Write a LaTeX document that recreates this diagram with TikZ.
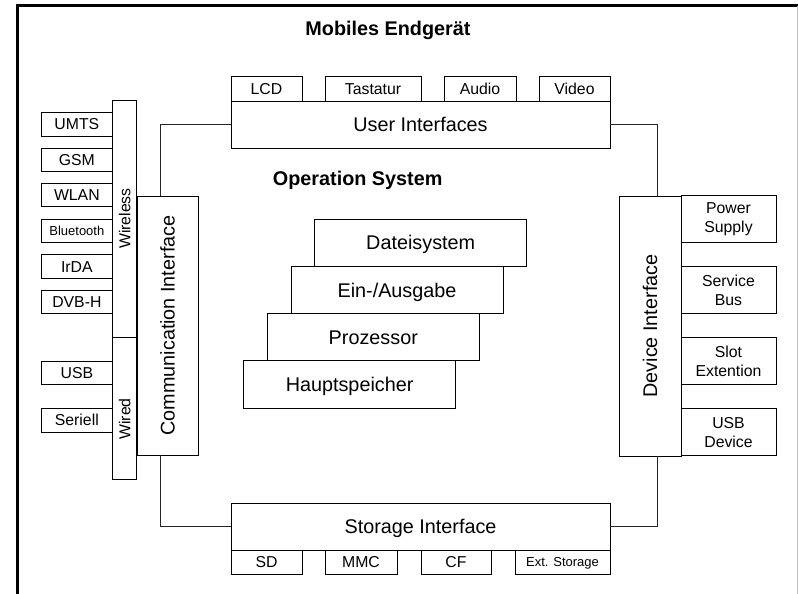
\documentclass[tikz,border=0pt]{standalone}
\usepackage{fontspec}
\setmainfont{Liberation Sans}
\usepackage{graphicx}
\begin{document}
\begin{tikzpicture}[x=1pt,y=-1pt,
  box/.style={draw=black, line width=1pt, inner sep=0pt, outer sep=0pt, align=center, fill=white},
  big/.style={font=\fontsize{19.8}{23}\selectfont},
  bigc/.style={big, text height=14.2pt, text depth=0pt},
  small/.style={font=\fontsize{15.8}{19}\selectfont},
  smallc/.style={small, text height=11.3pt, text depth=0pt},
  tinyc/.style={font=\fontsize{13}{15}\selectfont, text height=9.3pt, text depth=0pt},
  ttl/.style={font=\bfseries\fontsize{19.8}{23}\selectfont, anchor=base, inner sep=0pt},
  conn/.style={draw=black!85, line width=1pt},
  lbox/.style={box, smallc, minimum width=71.7pt, minimum height=23.5pt},
  rbox/.style={box, small, minimum width=95pt, minimum height=47pt},
  sbox/.style={box, bigc, minimum width=212pt, minimum height=47.3pt}
]
\useasboundingbox (0,0) rectangle (798,594);
% frame
\draw[line width=3pt] (17.5,594) -- (17.5,5.8) -- (797.5,5.8);
\draw[black!25, line width=1.2pt] (797.3,5.8) -- (797.3,594);

% titles
\node[ttl] (title) at (388,36) {Mobiles Endgerät};
\node[ttl] (os) at (357.7,185.7) {Operation System};

% user interfaces
\node[box, bigc, minimum width=379pt, minimum height=47pt] (ui) at (420.5,124.5) {User Interfaces};
\node[box, smallc, minimum width=71pt, minimum height=24pt] (lcd) at (266.5,89) {LCD};
\node[box, smallc, minimum width=96pt, minimum height=24pt] (tast) at (373,89) {Tastatur};
\node[box, smallc, minimum width=72pt, minimum height=24pt] (audio) at (480,89) {Audio};
\node[box, smallc, minimum width=71pt, minimum height=24pt] (video) at (574.5,89) {Video};

% communication interface
\node[box, big, minimum width=61pt, minimum height=259pt] (ci) at (167.5,325.5) {\rotatebox{90}{Communication Interface}};
\node[box, small, minimum width=24pt, minimum height=237pt] (wl) at (124.7,218.5) {\rotatebox{90}{Wireless}};
\node[box, small, minimum width=24pt, minimum height=142pt] (wd) at (124.7,408) {\rotatebox{90}{Wired\hspace*{22pt}}};

\node[lbox] (umts) at (76.85,124.3) {UMTS};
\node[lbox] (gsm) at (76.85,160) {GSM};
\node[lbox] (wlan) at (76.85,195) {WLAN};
\node[lbox, tinyc] (bt) at (76.85,231) {Bluetooth};
\node[lbox] (irda) at (76.85,266.5) {IrDA};
\node[lbox] (dvbh) at (76.85,302) {DVB-H};
\node[lbox] (usb) at (76.85,372.8) {USB};
\node[lbox] (ser) at (76.85,420.3) {Seriell};

% device interface
\node[box, big, minimum width=62pt, minimum height=260pt] (di) at (650,326) {\rotatebox{90}{Device Interface}};
\node[rbox] (pow) at (728.5,219.2) {Power\\Supply};
\node[rbox] (sbus) at (728.5,290.3) {Service\\Bus};
\node[rbox] (slot) at (728.5,361.3) {Slot\\Extention};
\node[rbox] (usbd) at (728.5,432.3) {USB\\Device};

% storage interface
\node[box, bigc, minimum width=379pt, minimum height=47pt] (si) at (420.5,526.5) {Storage Interface};
\node[box, smallc, minimum width=71pt, minimum height=24pt] (sd) at (266.5,562.2) {SD};
\node[box, smallc, minimum width=72pt, minimum height=24pt] (mmc) at (361,562.2) {MMC};
\node[box, smallc, minimum width=70pt, minimum height=24pt] (cf) at (456,562.2) {CF};
\node[box, tinyc, minimum width=95pt, minimum height=24pt] (ext) at (562.5,562.2) {Ext. Storage};

% operating system stack
\node[sbox] (datei) at (420.7,242.65) {Dateisystem};
\node[sbox] (ein) at (397,289.95) {Ein-/Ausgabe};
\node[sbox] (proz) at (373.3,337.25) {Prozessor};
\node[sbox] (haupt) at (349.6,384.55) {Hauptspeicher};

% connectors
\draw[conn] (ui.west) -| ([xshift=-7.5pt]ci.north);
\draw[conn] (ui.east) -| ([xshift=7.3pt]di.north);
\draw[conn] (si.west) -| ([xshift=-7.5pt]ci.south);
\draw[conn] (si.east) -| ([xshift=7.3pt]di.south);
\end{tikzpicture}
\end{document}
